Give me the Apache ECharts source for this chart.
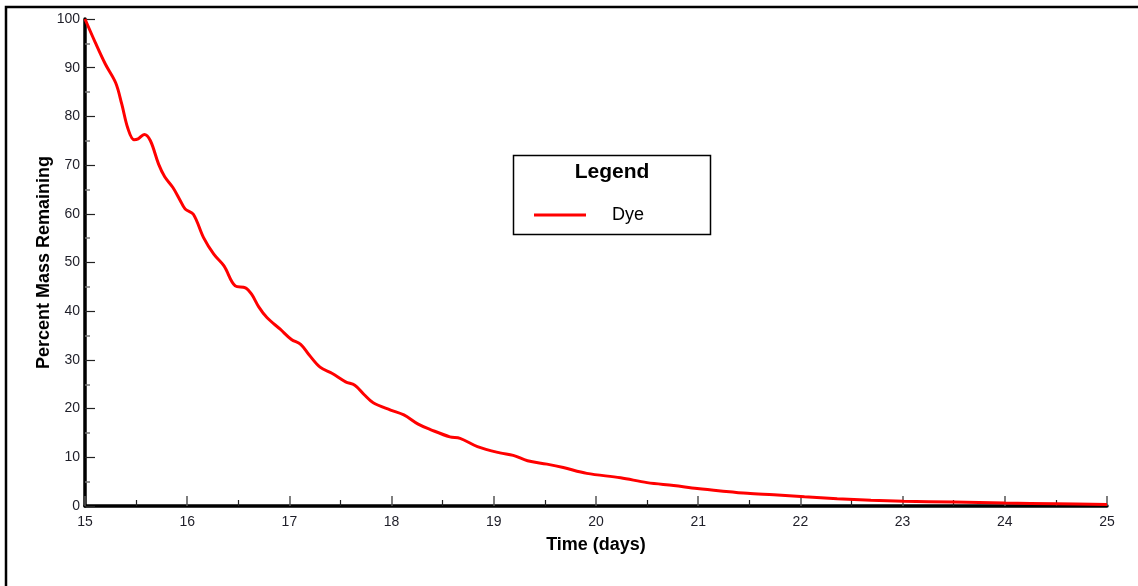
<!DOCTYPE html>
<html>
<head>
<meta charset="utf-8">
<script src="https://cdn.jsdelivr.net/npm/echarts@6/dist/echarts.min.js"></script>
<style>
  html, body { margin: 0; padding: 0; background: #ffffff; }
  #chart { width: 1138px; height: 586px; }
</style>
</head>
<body>
<div id="chart"></div>
<script>
// Time since release (days) and percent of dye mass still remaining
const timeDays = [
  15.00, 15.10, 15.20, 15.30, 15.36, 15.42, 15.48, 15.52, 15.58, 15.64,
  15.72, 15.78, 15.86, 15.93, 15.98, 16.06, 16.16, 16.26, 16.36, 16.47,
  16.57, 16.63, 16.70, 16.78, 16.91, 17.02, 17.11, 17.19, 17.30, 17.42,
  17.55, 17.64, 17.73, 17.82, 17.99, 18.12, 18.26, 18.38, 18.57, 18.67,
  18.84, 19.06, 19.19, 19.33, 19.52, 19.68, 19.91, 20.24, 20.50, 20.76,
  20.99, 21.22, 21.48, 21.74, 22.04, 22.36, 22.69, 23.01, 23.50, 24.00,
  24.50, 25.00
];
const dyePercent = [
  100.0, 95.2, 90.7, 86.9, 82.5, 77.5, 75.2, 75.4, 76.3, 75.0,
  70.2, 67.6, 65.4, 62.8, 61.0, 59.9, 55.1, 51.7, 49.3, 45.2,
  44.8, 43.5, 40.9, 38.7, 36.3, 34.2, 33.2, 31.1, 28.5, 27.2,
  25.5, 24.8, 22.9, 21.2, 19.7, 18.7, 16.8, 15.7, 14.2, 13.9,
  12.2, 10.9, 10.4, 9.3, 8.6, 7.9, 6.7, 5.8, 4.8, 4.2,
  3.6, 3.1, 2.6, 2.3, 1.9, 1.5, 1.2, 1.0, 0.8, 0.6,
  0.45, 0.3
];
const seriesName = 'Dye';
const legendTitle = 'Legend';
const xAxisTitle = 'Time (days)';
const yAxisTitle = 'Percent Mass Remaining';

const FONT = '"Liberation Sans", Arial, sans-serif';

const chart = echarts.init(document.getElementById('chart'), null, { renderer: 'canvas' });

chart.setOption({
  animation: false,
  backgroundColor: '#ffffff',
  grid: { left: 85, right: 31, top: 19, bottom: 80, containLabel: false },
  xAxis: {
    type: 'value',
    min: 15, max: 25, interval: 1,
    name: xAxisTitle,
    nameLocation: 'middle',
    nameGap: 30,
    nameMoveOverlap: false,
    nameTextStyle: { fontFamily: FONT, fontSize: 18, fontWeight: 'bold', color: '#000' },
    axisLine: { show: true, onZero: false, lineStyle: { color: '#000', width: 3.5 } },
    axisTick: { show: true, inside: true, length: 10, lineStyle: { color: '#555', width: 1.5 } },
    minorTick: { show: true, splitNumber: 2, length: 6, lineStyle: { color: '#222', width: 1.2 } },
    splitLine: { show: false },
    axisLabel: { fontFamily: FONT, fontSize: 14, color: '#1e1e28', margin: 9 }
  },
  yAxis: {
    type: 'value',
    min: 0, max: 100, interval: 10,
    name: yAxisTitle,
    nameLocation: 'middle',
    nameGap: 32,
    nameMoveOverlap: false,
    nameTextStyle: { fontFamily: FONT, fontSize: 18, fontWeight: 'bold', color: '#000' },
    axisLine: { show: true, onZero: false, lineStyle: { color: '#000', width: 3.5 } },
    axisTick: { show: true, inside: true, length: 10, lineStyle: { color: '#222', width: 1.2 } },
    minorTick: { show: true, splitNumber: 2, length: 5, lineStyle: { color: '#777', width: 1.5 } },
    splitLine: { show: false },
    axisLabel: { fontFamily: FONT, fontSize: 14, color: '#1e1e28', margin: 5 }
  },
  legend: {
    show: true,
    left: 529,
    top: 201,
    orient: 'horizontal',
    itemWidth: 52,
    itemHeight: 18,
    icon: 'path://M0,0 L52,0 L52,3 L0,3 Z',
    textStyle: { fontFamily: FONT, fontSize: 18, color: '#000', padding: [0, 0, 0, 21] },
    data: [seriesName]
  },
  graphic: [
    {
      type: 'rect',
      shape: { x: 6, y: 7, width: 1200, height: 700 },
      style: { fill: 'none', stroke: '#000', lineWidth: 2.5 },
      silent: true
    },
    {
      type: 'rect',
      shape: { x: 513.5, y: 155.5, width: 197, height: 79 },
      style: { fill: '#fff', stroke: '#000', lineWidth: 1.5 },
      z: 0, silent: true
    },
    {
      type: 'text',
      x: 612, y: 172,
      style: {
        text: legendTitle,
        font: 'bold 21px ' + FONT,
        fill: '#000',
        align: 'center',
        verticalAlign: 'middle'
      },
      silent: true
    }
  ],
  series: [
    {
      name: seriesName,
      type: 'line',
      data: timeDays.map((t, i) => [t, dyePercent[i]]),
      symbol: 'none',
      smooth: 0.35,
      lineStyle: { color: '#ff0000', width: 3 },
      itemStyle: { color: '#ff0000' },
      z: 3
    }
  ]
});
</script>
</body>
</html>
